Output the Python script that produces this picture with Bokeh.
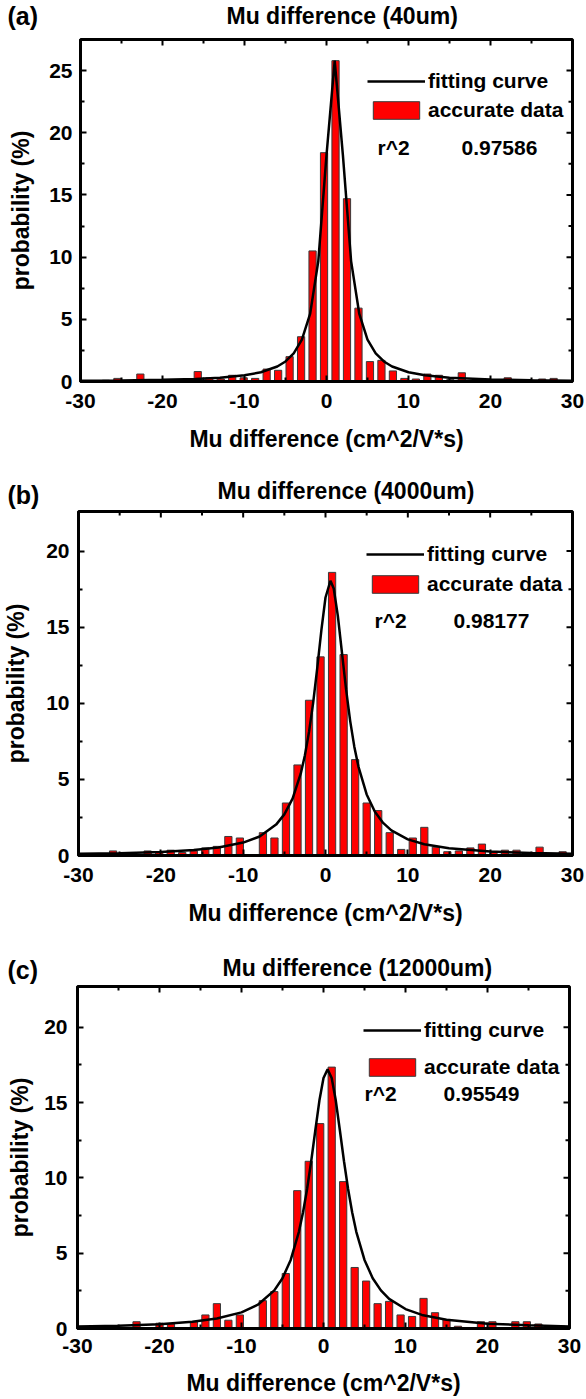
from bokeh.plotting import figure
from bokeh.layouts import column
from bokeh.models import Range1d, Label, Legend, LegendItem, FixedTicker
from bokeh.embed import file_html
from bokeh.resources import INLINE

FONT = "Liberation Sans"

# ---------------- data ----------------
x_ticks = [-30, -20, -10, 0, 10, 20, 30]
x_minor = [-25, -15, -5, 5, 15, 25]
x_title = "Mu difference (cm^2/V*s)"
y_title = "probability (%)"

# panel (a)
a_title = "Mu difference (40um)"
a_r2 = "0.97586"
a_centers = [-26.9, -25.5, -24.1, -22.7, -21.3, -19.9, -18.5, -17.1, -15.7, -14.3,
             -12.9, -11.5, -10.1, -8.7, -7.3, -5.9, -4.5, -3.1, -1.7, -0.3,
             1.1, 2.5, 3.9, 5.3, 6.7, 8.1, 9.5, 10.9, 12.3, 13.7,
             15.1, 16.5, 17.9, 19.3, 20.7, 22.1, 23.5, 24.9, 26.3, 27.7]
a_prob = [0.1, 0.25, 0.05, 0.6, 0.05, 0.15, 0.1, 0.1, 0.8, 0.3,
          0.2, 0.5, 0.3, 0.25, 1.0, 0.9, 2.0, 3.6, 10.5, 18.4,
          25.8, 14.7, 5.9, 1.6, 1.7, 0.85, 0.25, 0.2, 0.6, 0.5,
          0.15, 0.7, 0.05, 0.05, 0.05, 0.3, 0.05, 0.1, 0.2, 0.25]
a_fit_x = [-30, -25, -20, -16, -13, -10, -8, -6, -5, -4, -3, -2, -1, 0, 1, 2, 3, 4,
           5, 6, 7, 8, 10, 12, 15, 20, 25, 30]
a_fit_y = [0.06, 0.09, 0.14, 0.21, 0.31, 0.50, 0.74, 1.21, 1.61, 2.26, 3.37, 5.43,
           9.68, 18.2, 25.8, 18.2, 9.68, 5.43, 3.37, 2.26, 1.61, 1.21, 0.74, 0.50,
           0.31, 0.17, 0.11, 0.07]
a_yticks = [0, 5, 10, 15, 20, 25]
a_yminor = [2.5, 7.5, 12.5, 17.5, 22.5]

# panel (b)
b_title = "Mu difference (4000um)"
b_r2 = "0.98177"
b_centers = [-30.0, -28.6, -27.2, -25.8, -24.4, -23.0, -21.6, -20.2, -18.8, -17.4,
             -16.0, -14.6, -13.2, -11.8, -10.4, -9.0, -7.6, -6.2, -4.8, -3.4,
             -2.0, -0.6, 0.8, 2.2, 3.6, 5.0, 6.4, 7.8, 9.2, 10.6,
             12.0, 13.4, 14.8, 16.2, 17.6, 19.0, 20.4, 21.8, 23.2, 24.6,
             26.0, 27.4, 28.8]
b_prob = [0.1, 0.05, 0.05, 0.3, 0.05, 0.05, 0.3, 0.2, 0.35, 0.2,
          0.3, 0.5, 0.6, 1.25, 1.15, 0.0, 1.5, 1.15, 3.45, 5.95,
          10.2, 13.05, 18.6, 13.2, 6.3, 3.45, 2.95, 1.5, 0.4, 1.15,
          1.85, 0.55, 0.25, 0.3, 0.5, 0.75, 0.2, 0.35, 0.35, 0.05,
          0.55, 0.05, 0.25]
b_fit_x = [-30, -25, -20, -16, -13, -10, -8, -6, -5, -4, -3, -2.5, -2, -1.5, -1, -0.5,
           0, 0.6, 1, 1.5, 2, 2.5, 3, 3.5, 4, 5, 6, 7, 8, 10, 12, 15, 20, 25, 30]
b_fit_y = [0.11, 0.15, 0.23, 0.36, 0.52, 0.85, 1.25, 2.03, 2.70, 3.74, 5.39, 6.59,
           8.12, 10.03, 12.33, 14.81, 16.95, 18.05, 17.54, 15.74, 13.32, 10.91, 8.83,
           7.15, 5.84, 4.01, 2.87, 2.14, 1.65, 1.06, 0.74, 0.47, 0.26, 0.17, 0.12]
b_yticks = [0, 5, 10, 15, 20]
b_yminor = [2.5, 7.5, 12.5, 17.5]

# panel (c)
c_title = "Mu difference (12000um)"
c_r2 = "0.95549"
c_centers = [-29.8, -28.4, -27.0, -25.6, -24.2, -22.8, -21.4, -20.0, -18.6, -17.2,
             -15.8, -14.4, -13.0, -11.6, -10.2, -8.8, -7.4, -6.0, -4.6, -3.2,
             -1.8, -0.4, 1.0, 2.4, 3.8, 5.2, 6.6, 8.0, 9.4, 10.8,
             12.2, 13.6, 15.0, 16.4, 17.8, 19.2, 20.6, 22.0, 23.4, 24.8,
             26.2, 27.6, 29.0]
c_prob = [0.05, 0.05, 0.05, 0.1, 0.05, 0.45, 0.05, 0.35, 0.3, 0.05,
          0.45, 0.9, 1.65, 0.55, 0.9, 0.0, 1.85, 2.45, 3.65, 9.15,
          11.1, 13.6, 17.35, 9.75, 4.05, 3.15, 1.65, 1.8, 0.9, 0.8,
          2.0, 1.05, 0.6, 0.15, 0.05, 0.45, 0.45, 0.05, 0.45, 0.45,
          0.3, 0.15, 0.15]
c_fit_x = [-30, -25, -20, -16, -13, -10, -8, -6, -5, -4, -3, -2.5, -2, -1.5, -1, -0.5,
           0, 0.5, 1, 1.5, 2, 2.5, 3, 3.5, 4, 5, 6, 7, 8, 10, 12, 15, 20, 25, 30]
c_fit_y = [0.13, 0.19, 0.29, 0.45, 0.66, 1.07, 1.58, 2.53, 3.34, 4.55, 6.42, 7.70,
           9.26, 11.10, 13.14, 15.13, 16.63, 17.2, 16.63, 15.13, 13.14, 11.10, 9.26,
           7.70, 6.42, 4.55, 3.34, 2.53, 1.97, 1.29, 0.90, 0.58, 0.32, 0.21, 0.14]
c_yticks = [0, 5, 10, 15, 20]
c_yminor = [2.5, 7.5, 12.5, 17.5]

PAGE_W = 586


def style_axis(ax):
    ax.axis_line_width = 3
    ax.axis_line_color = "black"
    ax.major_tick_in = 6
    ax.major_tick_out = 0
    ax.minor_tick_in = 4
    ax.minor_tick_out = 0
    ax.major_tick_line_width = 2
    ax.minor_tick_line_width = 2
    ax.major_tick_line_color = "black"
    ax.minor_tick_line_color = "black"
    ax.major_label_text_font = FONT
    ax.major_label_text_font_style = "bold"
    ax.major_label_text_font_size = "21px"
    ax.major_label_text_color = "black"
    ax.axis_label_text_font = FONT
    ax.axis_label_text_font_style = "bold"
    ax.axis_label_text_font_size = "23px"
    ax.axis_label_text_color = "black"


def make_header(h, letter, title, title_x, title_y, letter_y):
    hf = figure(width=PAGE_W, height=h, x_range=Range1d(0, PAGE_W), y_range=Range1d(0, h),
                output_backend="svg", toolbar_location=None, min_border=0,
                x_axis_location=None, y_axis_location=None, frame_align=False)
    hf.outline_line_color = None
    hf.grid.visible = False
    hf.add_layout(Label(x=7, y=letter_y, x_units="screen", y_units="screen",
                        text=letter, text_font=FONT, text_font_style="bold",
                        text_font_size="25px", text_align="left",
                        text_baseline="middle", text_color="black"))
    hf.add_layout(Label(x=title_x, y=title_y, x_units="screen", y_units="screen",
                        text=title, text_font=FONT, text_font_style="bold",
                        text_font_size="23px", text_align="left",
                        text_baseline="middle", text_color="black"))
    return hf


def make_panel(r2, centers, probs, fit_x, fit_y, ymax, yticks, yminor, geo):
    fw, fh = geo["fw"], geo["fh"]
    p = figure(frame_width=fw, frame_height=fh,
               x_range=Range1d(-30, 30), y_range=Range1d(0, ymax),
               output_backend="svg", toolbar_location=None, frame_align=False,
               min_border_left=geo["bl"], min_border_right=geo["br"],
               min_border_top=geo["bt"], min_border_bottom=geo["bb"])
    p.grid.visible = False
    p.outline_line_color = "black"
    p.outline_line_width = 3

    bars = p.vbar(x=centers, top=probs, width=0.88, bottom=0,
                  fill_color="#ff0000", line_color="#3a3a3a", line_width=1)
    curve = p.line(x=fit_x, y=fit_y, line_color="black", line_width=2.5)

    # inward ticks on the top and right frame edges (mirroring the axes)
    dy_major = 6 * ymax / fh
    dy_minor = 4 * ymax / fh
    dx_major = 6 * 60 / fw
    dx_minor = 4 * 60 / fw
    tx = [t for t in x_ticks if -30 < t < 30]
    p.segment(x0=tx, y0=[ymax] * len(tx), x1=tx, y1=[ymax - dy_major] * len(tx),
              line_color="black", line_width=2)
    p.segment(x0=x_minor, y0=[ymax] * len(x_minor), x1=x_minor,
              y1=[ymax - dy_minor] * len(x_minor), line_color="black", line_width=2)
    ty = [t for t in yticks if 0 < t < ymax]
    p.segment(x0=[30] * len(ty), y0=ty, x1=[30 - dx_major] * len(ty), y1=ty,
              line_color="black", line_width=2)
    p.segment(x0=[30] * len(yminor), y0=yminor, x1=[30 - dx_minor] * len(yminor),
              y1=yminor, line_color="black", line_width=2)

    xa = p.xaxis[0]
    xa.ticker = FixedTicker(ticks=x_ticks, minor_ticks=x_minor)
    style_axis(xa)
    xa.major_label_overrides = {t: str(t) for t in x_ticks}
    xa.major_label_standoff = geo["xts"]
    xa.axis_label = x_title
    xa.axis_label_standoff = geo["xls"]

    ya = p.yaxis[0]
    ya.ticker = FixedTicker(ticks=yticks, minor_ticks=yminor)
    style_axis(ya)
    ya.major_label_standoff = geo["yts"]
    ya.axis_label = y_title
    ya.axis_label_standoff = geo["yls"]

    leg = Legend(items=[LegendItem(label="fitting curve", renderers=[curve]),
                        LegendItem(label="accurate data", renderers=[bars])],
                 location=(geo["lx"], geo["lyb"]), glyph_width=58, glyph_height=22,
                 label_height=22, spacing=geo["lsp"], padding=0, margin=0,
                 label_standoff=3, border_line_color=None,
                 background_fill_alpha=0, label_text_font=FONT,
                 label_text_font_style="bold", label_text_font_size="21px",
                 label_text_color="black")
    p.add_layout(leg)

    p.add_layout(Label(x=geo["rx"], y=fh - geo["ry"], x_units="screen", y_units="screen",
                       text="r^2", text_font=FONT, text_font_style="bold",
                       text_font_size="21px", text_baseline="middle", text_color="black"))
    p.add_layout(Label(x=geo["rvx"], y=fh - geo["ry"], x_units="screen", y_units="screen",
                       text=r2, text_font=FONT, text_font_style="bold",
                       text_font_size="21px", text_baseline="middle", text_color="black"))
    return p


geo_a = dict(fw=492, fh=342, bl=80, br=14, bt=2, bb=81, xts=12, xls=15, yts=8, yls=12,
             lx=287, lyb=259, lsp=5, rx=297, ry=108, rvx=381)
geo_b = dict(fw=494, fh=344, bl=72, br=20, bt=2, bb=85, xts=12, xls=15, yts=9, yls=14,
             lx=288, lyb=259, lsp=6, rx=296, ry=109, rvx=375)
geo_c = dict(fw=492, fh=342, bl=77, br=17, bt=2, bb=70, xts=10, xls=14, yts=10, yls=8,
             lx=286, lyb=249, lsp=13, rx=287, ry=107, rvx=366)

ha = make_header(37, "(a)", a_title, 226, 22, 22)
pa = make_panel(a_r2, a_centers, a_prob, a_fit_x, a_fit_y, 27.5, a_yticks, a_yminor, geo_a)
hb = make_header(47, "(b)", b_title, 217, 19, 15)
pb = make_panel(b_r2, b_centers, b_prob, b_fit_x, b_fit_y, 22.6, b_yticks, b_yminor, geo_b)
hc = make_header(44, "(c)", c_title, 222, 17, 15)
pc = make_panel(c_r2, c_centers, c_prob, c_fit_x, c_fit_y, 22.7, c_yticks, c_yminor, geo_c)

layout = column(ha, pa, hb, pb, hc, pc, spacing=0)
open("out.html", "w").write(file_html(layout, INLINE))
